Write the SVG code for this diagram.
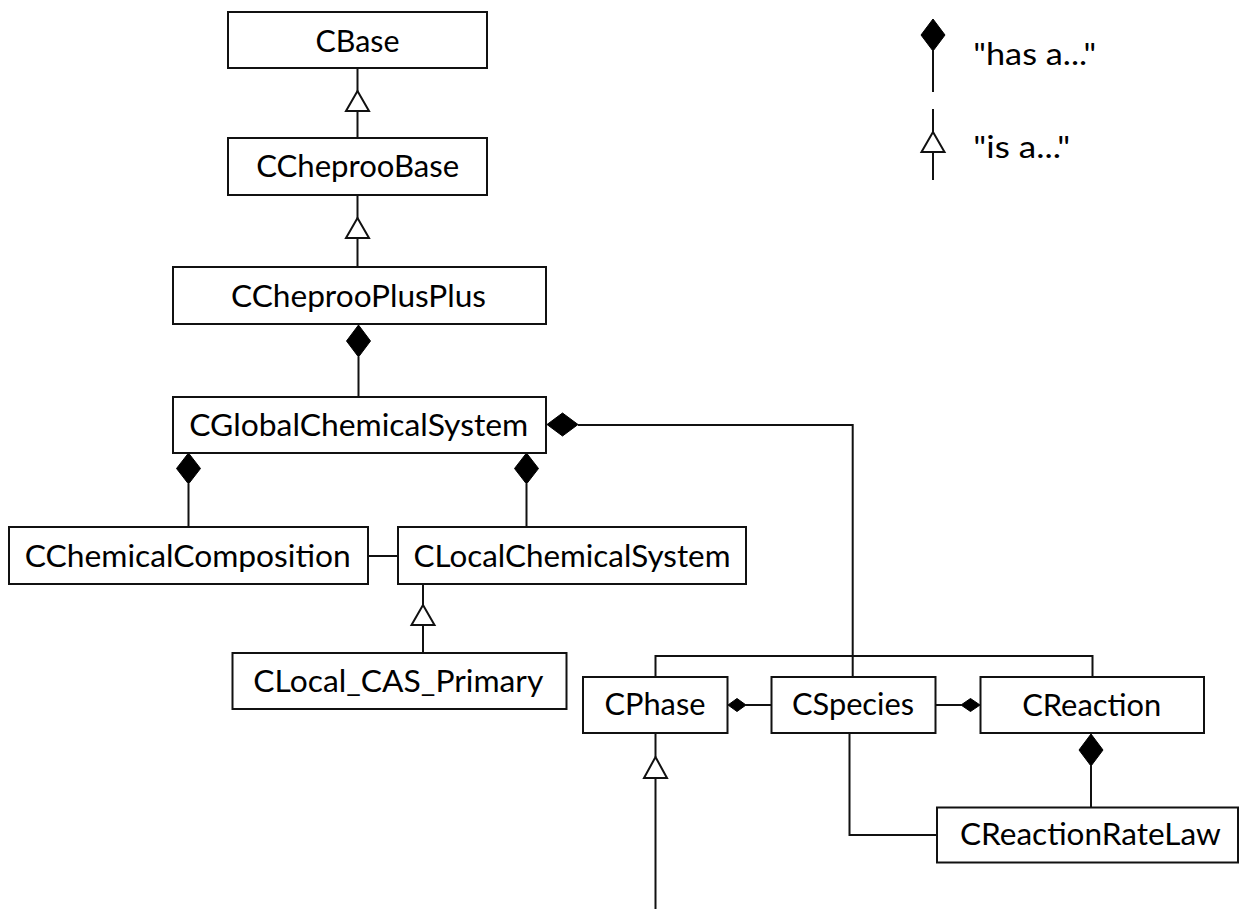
<svg xmlns="http://www.w3.org/2000/svg" width="1240" height="909" viewBox="0 0 1240 909">
<style>
.box{fill:#fff;stroke:#111;stroke-width:2}
.lbl{font-family:Lato,"Open Sans","Liberation Sans",sans-serif;font-size:31.5px;fill:#000;text-anchor:middle}
.leg{font-family:Lato,"Open Sans","Liberation Sans",sans-serif;font-size:31.5px;fill:#000;text-anchor:start}
.ln{stroke:#111;stroke-width:2;fill:none}
.dia{fill:#000;stroke:#000;stroke-width:1}
.tri{fill:#fff;stroke:#111;stroke-width:2}
</style>
<rect x="0" y="0" width="1240" height="909" fill="#fff"/>
<g id="connectors">
  <!-- CBase <- CCheprooBase -->
  <line class="ln" x1="357.5" y1="68" x2="357.5" y2="138"/>
  <polygon class="tri" points="357.5,91 369,111 346,111"/>
  <!-- CCheprooBase <- CCheprooPlusPlus -->
  <line class="ln" x1="357.5" y1="195" x2="357.5" y2="267"/>
  <polygon class="tri" points="357.5,218 369,238 346,238"/>
  <!-- CCheprooPlusPlus has CGlobal -->
  <line class="ln" x1="358.5" y1="357" x2="358.5" y2="397"/>
  <polygon class="dia" points="358.5,325 370.5,341 358.5,357 346.5,341"/>
  <!-- CGlobal has CChemicalComposition -->
  <line class="ln" x1="188.5" y1="484" x2="188.5" y2="527"/>
  <polygon class="dia" points="188.5,453 200.5,468.5 188.5,484 176.5,468.5"/>
  <!-- CGlobal has CLocalChemicalSystem -->
  <line class="ln" x1="526.5" y1="484" x2="526.5" y2="527"/>
  <polygon class="dia" points="526.5,453 538.5,468.5 526.5,484 514.5,468.5"/>
  <!-- CChemicalComposition - CLocalChemicalSystem -->
  <line class="ln" x1="368" y1="556" x2="398" y2="556"/>
  <!-- CLocal <- CLocal_CAS_Primary -->
  <line class="ln" x1="423" y1="584" x2="423" y2="653"/>
  <polygon class="tri" points="423,605 434.5,625 411.5,625"/>
  <!-- CGlobal has CSpecies/CPhase/CReaction -->
  <polygon class="dia" points="547,424.5 562.5,413 578,424.5 562.5,436"/>
  <polyline class="ln" points="578,425 852.7,425 852.7,677"/>
  <polyline class="ln" points="655.5,677 655.5,656 1092.5,656 1092.5,677"/>
  <!-- CPhase has CSpecies -->
  <line class="ln" x1="746" y1="705" x2="771.5" y2="705"/>
  <polygon class="dia" points="728,705 737,698.5 746,705 737,711.5"/>
  <!-- CReaction has CSpecies -->
  <line class="ln" x1="935.5" y1="705" x2="961" y2="705"/>
  <polygon class="dia" points="961,705 970.5,698.5 980,705 970.5,711.5"/>
  <!-- CReaction has CReactionRateLaw -->
  <line class="ln" x1="1091" y1="766" x2="1091" y2="807.5"/>
  <polygon class="dia" points="1091,734 1103,750 1091,766 1079,750"/>
  <!-- CSpecies - CReactionRateLaw -->
  <polyline class="ln" points="849.5,733 849.5,835 937,835"/>
  <!-- CPhase <- (below) -->
  <line class="ln" x1="655.5" y1="733" x2="655.5" y2="757"/>
  <line class="ln" x1="655.5" y1="778" x2="655.5" y2="909"/>
  <polygon class="tri" points="655.5,757 667,778 644,778"/>
</g>
<g id="n-cbase"><rect class="box" x="228" y="12" width="259" height="56"/><text class="lbl" x="357.5" y="52" textLength="84" lengthAdjust="spacingAndGlyphs">CBase</text></g>
<g id="n-ccheproobase"><rect class="box" x="228" y="138" width="259" height="57"/><text class="lbl" x="357.7" y="177" textLength="203" lengthAdjust="spacingAndGlyphs">CCheprooBase</text></g>
<g id="n-ccheprooplusplus"><rect class="box" x="173" y="267" width="373" height="57"/><text class="lbl" x="358.5" y="306.5" textLength="255" lengthAdjust="spacingAndGlyphs">CCheprooPlusPlus</text></g>
<g id="n-cglobalchemicalsystem"><rect class="box" x="173" y="397" width="373" height="56"/><text class="lbl" x="358.8" y="435.5" textLength="339" lengthAdjust="spacingAndGlyphs">CGlobalChemicalSystem</text></g>
<g id="n-cchemicalcomposition"><rect class="box" x="9" y="527" width="359" height="57"/><text class="lbl" x="187.8" y="566.5" textLength="326" lengthAdjust="spacingAndGlyphs">CChemicalComposition</text></g>
<g id="n-clocalchemicalsystem"><rect class="box" x="398" y="527" width="348" height="57"/><text class="lbl" x="572" y="566.5" textLength="317" lengthAdjust="spacingAndGlyphs">CLocalChemicalSystem</text></g>
<g id="n-clocal-cas-primary"><rect class="box" x="232.5" y="653" width="334" height="56"/><text class="lbl" x="398.3" y="692" textLength="290" lengthAdjust="spacingAndGlyphs">CLocal_CAS_Primary</text></g>
<g id="n-cphase"><rect class="box" x="583" y="677" width="144.5" height="56"/><text class="lbl" x="655" y="715" textLength="101" lengthAdjust="spacingAndGlyphs">CPhase</text></g>
<g id="n-cspecies"><rect class="box" x="771.5" y="677" width="164" height="56"/><text class="lbl" x="853" y="715" textLength="122" lengthAdjust="spacingAndGlyphs">CSpecies</text></g>
<g id="n-creaction"><rect class="box" x="980.5" y="677" width="223.5" height="56"/><text class="lbl" x="1091.7" y="716" textLength="139" lengthAdjust="spacingAndGlyphs">CReaction</text></g>
<g id="n-creactionratelaw"><rect class="box" x="937" y="807.5" width="301" height="55"/><text class="lbl" x="1090.4" y="845" textLength="261" lengthAdjust="spacingAndGlyphs">CReactionRateLaw</text></g>
<g id="legend">
  <polygon class="dia" points="933,19 945,35 933,51 921,35"/>
  <line class="ln" x1="933" y1="51" x2="933" y2="92"/>
  <text class="leg" x="973.3" y="65" textLength="123" lengthAdjust="spacingAndGlyphs">"has a..."</text>
  <line class="ln" x1="933" y1="109" x2="933" y2="132"/>
  <line class="ln" x1="933" y1="152" x2="933" y2="180"/>
  <polygon class="tri" points="933,132 944.5,152 921.5,152"/>
  <text class="leg" x="973.3" y="158.3" textLength="97" lengthAdjust="spacingAndGlyphs">"is a..."</text>
</g>
</svg>
